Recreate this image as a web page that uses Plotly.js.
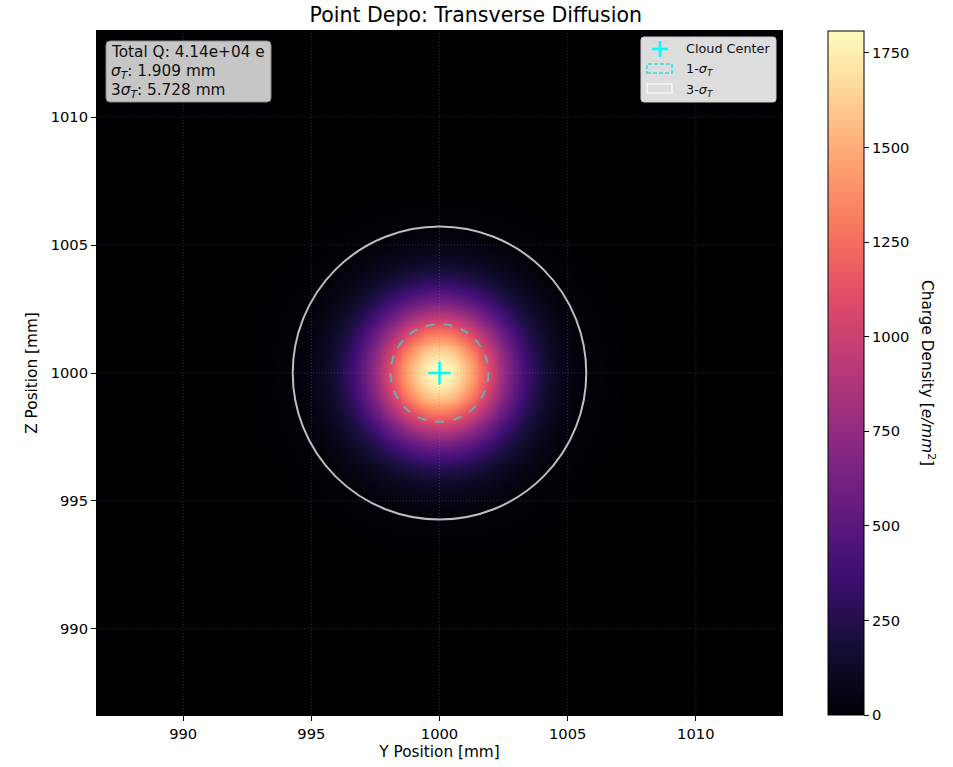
<!DOCTYPE html>
<html><head><meta charset="utf-8">
<script src="https://cdn.plot.ly/plotly-3.0.1.min.js"></script>
<style>html,body{margin:0;padding:0;background:#fff;}#chart{width:953px;height:767px;}</style>
</head><body><div id="chart"></div>
<script>
// ---- data ----
const totalQ = 4.14e4;        // e
const sigmaT = 1.909;         // mm
const centerY = 1000;         // mm
const centerZ = 1000;         // mm
const nSigmaView = 7;         // view half-width in sigma
const tickVals = [990, 995, 1000, 1005, 1010];
const cbTicks = [0, 250, 500, 750, 1000, 1250, 1500, 1750];
const magma = [
  [0.0,'#000004'],[0.1,'#140e36'],[0.2,'#3b0f70'],[0.3,'#641a80'],[0.4,'#8c2981'],
  [0.5,'#b73779'],[0.6,'#de4968'],[0.7,'#f7705c'],[0.8,'#fe9f6d'],[0.9,'#fecf92'],[1.0,'#fcfdbf']
];

// ---- grid of charge density ----
const half = nSigmaView * sigmaT;
const N = 241;
const xs = [], ys = [];
for (let i = 0; i < N; i++) {
  xs.push(centerY - half + 2 * half * i / (N - 1));
  ys.push(centerZ - half + 2 * half * i / (N - 1));
}
const norm = totalQ / (2 * Math.PI * sigmaT * sigmaT);
const z = ys.map(yv => xs.map(xv => {
  const r2 = (xv - centerY) ** 2 + (yv - centerZ) ** 2;
  return norm * Math.exp(-r2 / (2 * sigmaT * sigmaT));
}));

const FONT = 'DejaVu Sans, sans-serif';
const L = 97, R = 782, T = 31, B = 715;
const px = v => (v - L) / (R - L);
const py = v => (B - v) / (B - T);

const traces = [
  {
    type: 'heatmap', x: xs, y: ys, z: z, colorscale: magma, zmin: 0, zmax: norm, zsmooth: 'best',
    showscale: true, hoverinfo: 'skip',
    colorbar: {
      x: px(828), xanchor: 'left', xpad: 0, y: 0.5, yanchor: 'middle', ypad: 0,
      len: 1, lenmode: 'fraction', thickness: 36, thicknessmode: 'pixels',
      outlinewidth: 1, outlinecolor: '#000',
      tickvals: cbTicks, ticks: 'outside', ticklen: 5, tickwidth: 1, tickcolor: '#000',
      tickfont: {family: FONT, size: 14.7, color: '#000'}
    }
  },
  {
    type: 'scatter', mode: 'markers', x: [centerY], y: [centerZ], showlegend: false,
    marker: {symbol: 'cross-thin', size: 16, line: {color: '#00ffff', width: 2.5}}, hoverinfo: 'skip'
  }
];

const shapes = [];
// grid lines (dotted, above image)
tickVals.forEach(v => {
  shapes.push({type: 'line', xref: 'x', yref: 'paper', x0: v, x1: v, y0: 0, y1: 1, layer: 'above',
    line: {color: 'rgba(128,128,128,0.35)', width: 1, dash: '1px,2px'}});
  shapes.push({type: 'line', xref: 'paper', yref: 'y', x0: 0, x1: 1, y0: v, y1: v, layer: 'above',
    line: {color: 'rgba(128,128,128,0.35)', width: 1, dash: '1px,2px'}});
});
// sigma circles
shapes.push({type: 'circle', xref: 'x', yref: 'y', x0: centerY - sigmaT, x1: centerY + sigmaT,
  y0: centerZ - sigmaT, y1: centerZ + sigmaT, layer: 'above',
  line: {color: 'rgba(95,180,185,0.95)', width: 2, dash: 'dash'}});
shapes.push({type: 'circle', xref: 'x', yref: 'y', x0: centerY - 3 * sigmaT, x1: centerY + 3 * sigmaT,
  y0: centerZ - 3 * sigmaT, y1: centerZ + 3 * sigmaT, layer: 'above',
  line: {color: 'rgba(200,200,200,0.95)', width: 2}});
function roundRect(x0, x1, y0, y1, r, fill, lineColor) {
  const X = v => px(v), Y = v => py(v);
  shapes.push({type: 'path', xref: 'paper', yref: 'paper', layer: 'above',
    fillcolor: fill, line: {color: lineColor, width: 1},
    path: `M ${X(x0 + r)},${Y(y0)} L ${X(x1 - r)},${Y(y0)} Q ${X(x1)},${Y(y0)} ${X(x1)},${Y(y0 + r)} ` +
          `L ${X(x1)},${Y(y1 - r)} Q ${X(x1)},${Y(y1)} ${X(x1 - r)},${Y(y1)} L ${X(x0 + r)},${Y(y1)} ` +
          `Q ${X(x0)},${Y(y1)} ${X(x0)},${Y(y1 - r)} L ${X(x0)},${Y(y0 + r)} Q ${X(x0)},${Y(y0)} ${X(x0 + r)},${Y(y0)} Z`});
}
roundRect(106, 271, 41, 102, 4, 'rgba(206,206,206,0.96)', '#8a8a8a');   // text box
roundRect(641, 776, 37, 102, 3, 'rgba(230,230,230,0.96)', '#cccccc');   // legend box
// cross icon
shapes.push({type: 'line', xref: 'paper', yref: 'paper', x0: px(652), x1: px(668), y0: py(49), y1: py(49),
  layer: 'above', line: {color: '#00ffff', width: 2.5}});
shapes.push({type: 'line', xref: 'paper', yref: 'paper', x0: px(660), x1: px(660), y0: py(41), y1: py(57),
  layer: 'above', line: {color: '#00ffff', width: 2.5}});
// 1-sigma patch
shapes.push({type: 'rect', xref: 'paper', yref: 'paper', x0: px(647), x1: px(672), y0: py(73), y1: py(64),
  layer: 'above', fillcolor: 'rgba(0,0,0,0)', line: {color: '#33dde0', width: 1.5, dash: '4px,2px'}});
// 3-sigma patch
shapes.push({type: 'rect', xref: 'paper', yref: 'paper', x0: px(647), x1: px(672), y0: py(93), y1: py(84),
  layer: 'above', fillcolor: 'rgba(0,0,0,0)', line: {color: '#f6f6f6', width: 1.5}});

const boxLines = ['Total Q: 4.14e+04 e', '<i>σ<sub>T</sub></i>: 1.909 mm', '3<i>σ<sub>T</sub></i>: 5.728 mm'];
const boxY = [52, 72, 91];
const annotations = boxLines.map((t, i) => ({
  xref: 'paper', yref: 'paper', x: px(109), y: py(boxY[i]), xanchor: 'left', yanchor: 'middle', align: 'left',
  showarrow: false, font: {family: FONT, size: 15.3, color: '#111'}, text: t
})).concat([
  {xref: 'paper', yref: 'paper', x: px(684), y: py(48), xanchor: 'left', yanchor: 'middle', showarrow: false,
    font: {family: FONT, size: 12.8, color: '#111'}, text: 'Cloud Center'},
  {xref: 'paper', yref: 'paper', x: px(684), y: py(69), xanchor: 'left', yanchor: 'middle', showarrow: false,
    font: {family: FONT, size: 12.8, color: '#111'}, text: '1-<i>σ<sub>T</sub></i>'},
  {xref: 'paper', yref: 'paper', x: px(684), y: py(90), xanchor: 'left', yanchor: 'middle', showarrow: false,
    font: {family: FONT, size: 12.8, color: '#111'}, text: '3-<i>σ<sub>T</sub></i>'},
  {xref: 'paper', yref: 'paper', x: px(928), y: 0.5, xanchor: 'center', yanchor: 'middle', showarrow: false,
    textangle: 90, font: {family: FONT, size: 15.3, color: '#000'},
    text: 'Charge Density [<i>e/mm</i><sup>2</sup>]'}
]);

const axisCommon = {
  range: [centerY - half, centerY + half], tickvals: tickVals, ticks: 'outside', ticklen: 5, tickwidth: 1,
  tickcolor: '#000', showgrid: false, zeroline: false, showline: true, mirror: true, linecolor: '#000',
  linewidth: 1, tickfont: {family: FONT, size: 14.7, color: '#000'}
};

const layout = {
  width: 953, height: 767,
  margin: {l: L, r: 953 - R, t: T, b: 767 - B, pad: 0},
  paper_bgcolor: '#fff', plot_bgcolor: '#000',
  showlegend: false,
  title: {text: 'Point Depo: Transverse Diffusion', x: px(439), xanchor: 'center', y: 1 - 15 / 767, yanchor: 'middle',
    font: {family: FONT, size: 20.5, color: '#000'}},
  xaxis: Object.assign({}, axisCommon, {title: {text: 'Y Position [mm]', standoff: 5,
    font: {family: FONT, size: 15.3, color: '#000'}}}),
  yaxis: Object.assign({}, axisCommon, {range: [centerZ - half, centerZ + half],
    title: {text: 'Z Position [mm]', standoff: 9, font: {family: FONT, size: 15.3, color: '#000'}}}),
  shapes: shapes, annotations: annotations
};

Plotly.newPlot('chart', traces, layout, {displayModeBar: false, staticPlot: true});
</script></body></html>
